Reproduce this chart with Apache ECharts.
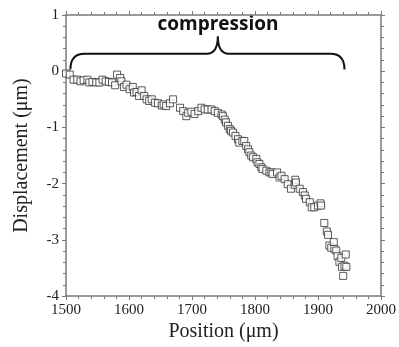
<!DOCTYPE html>
<html>
<head>
<meta charset="utf-8">
<script src="https://cdn.jsdelivr.net/npm/echarts@6/dist/echarts.min.js"></script>
<style>
  html, body { margin: 0; padding: 0; background: #fff; }
  #main { width: 399px; height: 347px; }
</style>
</head>
<body>
<div id="main"></div>
<script>
// position (um) of each measured point
var positions = [
    1500, 1506, 1512, 1518, 1523, 1528, 1534, 1537, 1542, 1548,
    1553, 1558, 1563, 1568, 1573, 1578, 1581, 1586, 1588, 1592,
    1596, 1601, 1606, 1608, 1612, 1616, 1620, 1624, 1628, 1632,
    1636, 1641, 1646, 1652, 1655, 1659, 1665, 1670, 1681, 1686,
    1691, 1694, 1699, 1704, 1710, 1715, 1720, 1725, 1731, 1736,
    1741, 1747, 1749, 1752, 1754, 1757, 1760, 1762, 1765, 1769,
    1773, 1775, 1780, 1783, 1786, 1789, 1791, 1794, 1797, 1802,
    1804, 1807, 1810, 1812, 1818, 1823, 1826, 1828, 1835, 1839,
    1842, 1847, 1852, 1857, 1863, 1864, 1865, 1871, 1876, 1879,
    1881, 1887, 1890, 1894, 1900, 1904, 1905, 1910, 1914, 1916,
    1918, 1921, 1925, 1926, 1929, 1931, 1934, 1937, 1938, 1940,
    1942, 1944, 1945
];
// displacement (um)
var displacement = [
    -0.04, -0.06, -0.15, -0.15, -0.18, -0.16, -0.15, -0.20, -0.19, -0.20,
    -0.20, -0.15, -0.18, -0.19, -0.20, -0.25, -0.06, -0.12, -0.18, -0.28,
    -0.24, -0.32, -0.28, -0.38, -0.37, -0.44, -0.34, -0.44, -0.50, -0.53,
    -0.50, -0.56, -0.57, -0.61, -0.59, -0.62, -0.57, -0.50, -0.65, -0.71,
    -0.80, -0.74, -0.72, -0.76, -0.71, -0.65, -0.68, -0.68, -0.68, -0.71,
    -0.74, -0.77, -0.80, -0.86, -0.91, -0.97, -1.03, -1.06, -1.09, -1.15,
    -1.21, -1.27, -1.24, -1.24, -1.33, -1.39, -1.44, -1.50, -1.53, -1.56,
    -1.62, -1.65, -1.71, -1.74, -1.77, -1.80, -1.80, -1.83, -1.80, -1.89,
    -1.86, -1.92, -2.01, -2.09, -2.02, -1.93, -1.98, -2.09, -2.15, -2.21,
    -2.27, -2.33, -2.42, -2.42, -2.39, -2.35, -2.39, -2.70, -2.85, -2.91,
    -3.10, -3.14, -3.04, -3.16, -3.19, -3.29, -3.39, -3.32, -3.48, -3.64,
    -3.46, -3.26, -3.48
];

// brace over the compression zone: left end, tip, right end
var braceX = [1507, 1741, 1942];
var braceY = [0.03, 0.31, 0.62];   // ends, bar, tip

var myChart = echarts.init(document.getElementById('main'));

var axisGray = '#7a7a7a';
var serif = '"Liberation Serif", "DejaVu Serif", serif';

var pts = positions.map(function (p, i) { return [p, displacement[i]]; });

function xBase(pos) {
    return {
        type: 'value', min: 1500, max: 2000, interval: 100,
        position: pos,
        axisLine: { show: true, onZero: false, lineStyle: { color: axisGray, width: 1.5 } },
        axisTick: { show: true, length: 4, lineStyle: { color: axisGray } },
        minorTick: { show: true, splitNumber: 5, length: 3, lineStyle: { color: axisGray } },
        splitLine: { show: false }
    };
}
function yBase(pos) {
    return {
        type: 'value', min: -4, max: 1, interval: 1,
        position: pos,
        axisLine: { show: true, onZero: false, lineStyle: { color: axisGray, width: 1.5 } },
        axisTick: { show: true, length: 4, lineStyle: { color: axisGray } },
        minorTick: { show: true, splitNumber: 5, length: 3, lineStyle: { color: axisGray } },
        splitLine: { show: false }
    };
}

var xBottom = xBase('bottom');
xBottom.axisLabel = {
    color: '#222', fontFamily: serif, fontSize: 15, margin: 6,
    formatter: function (v) { return String(v); }
};
xBottom.name = 'Position (\u03bcm)';
xBottom.nameLocation = 'middle';
xBottom.nameGap = 23;
xBottom.nameTextStyle = { color: '#222', fontFamily: serif, fontSize: 20 };
var xTop = xBase('top');
xTop.axisLabel = { show: false };

var yLeft = yBase('left');
yLeft.axisLabel = { color: '#222', fontFamily: serif, fontSize: 15, margin: 7 };
yLeft.name = 'Displacement (\u03bcm)';
yLeft.nameLocation = 'middle';
yLeft.nameGap = 34;
yLeft.nameTextStyle = { color: '#222', fontFamily: serif, fontSize: 20 };
var yRight = yBase('right');
yRight.axisLabel = { show: false };

var option = {
    backgroundColor: '#fff',
    animation: false,
    grid: { left: 66, right: 17, top: 15, bottom: 49 },
    xAxis: [xBottom, xTop],
    yAxis: [yLeft, yRight],
    graphic: [{
        type: 'text', x: 218, y: 25,
        style: {
            text: 'compression',
            font: 'bold 19px "Open Sans", "Noto Sans", sans-serif',
            fill: '#111', align: 'center', verticalAlign: 'middle'
        }
    }],
    series: [{
        type: 'scatter',
        data: pts,
        symbol: 'rect',
        symbolSize: 7,
        itemStyle: { color: '#fff', borderColor: '#333', borderWidth: 1 },
        z: 3
    }, {
        type: 'custom',
        data: [[braceX[1], braceY[1]]],
        renderItem: function (params, api) {
            var L = api.coord([braceX[0], braceY[0]]);
            var Lb = api.coord([braceX[0], braceY[1]]);
            var M = api.coord([braceX[1], braceY[1]]);
            var T = api.coord([braceX[1], braceY[2]]);
            var R = api.coord([braceX[2], braceY[0]]);
            var Rb = api.coord([braceX[2], braceY[1]]);
            var y = M[1];
            var r = 14, rt = 11;
            var d = 'M' + L[0] + ' ' + L[1] +
                ' Q' + Lb[0] + ' ' + y + ' ' + (Lb[0] + r) + ' ' + y +
                ' L' + (M[0] - rt) + ' ' + y +
                ' Q' + M[0] + ' ' + y + ' ' + T[0] + ' ' + T[1] +
                ' Q' + M[0] + ' ' + y + ' ' + (M[0] + rt) + ' ' + y +
                ' L' + (Rb[0] - r) + ' ' + y +
                ' Q' + Rb[0] + ' ' + y + ' ' + R[0] + ' ' + R[1];
            return {
                type: 'path',
                shape: { pathData: d },
                style: { fill: 'none', stroke: '#111', lineWidth: 2 }
            };
        },
        z: 4
    }]
};

myChart.setOption(option);
</script>
</body>
</html>
